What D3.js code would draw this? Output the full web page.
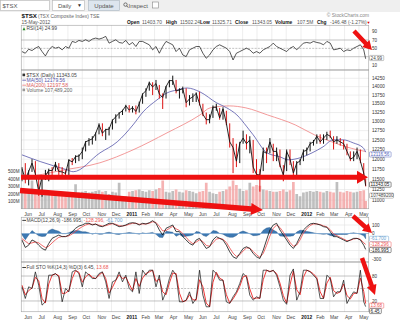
<!DOCTYPE html>
<html><head><meta charset="utf-8">
<script src="https://cdn.jsdelivr.net/npm/d3@7"></script>
<style>
html,body{margin:0;padding:0;background:#fff;}
svg{display:block;font-family:"Liberation Sans",Arial,sans-serif;}
</style></head><body>
<svg id="c" width="400" height="323"></svg>
<script>
// ---------------- DATA ----------------
// weekly closes/highs/lows (Fridays 2010-05-28 .. 2012-05-11, then 2012-05-15)
const closeVals = [11763,11500,11690,11900,11630,11200,11560,11580,11720,11710,11880,11690,11680,11640,11980,11930,12070,12080,12200,12450,12490,12530,12680,12910,12680,12780,12790,13030,13130,13230,13300,13440,
13320,13390,13280,13500,13780,13880,14120,13990,14090,13780,13680,14000,14180,14180,13870,13900,13940,13530,13640,13700,13800,13500,13200,13050,13050,13400,13400,13100,13350,12950,12450,12300,11950,12400,12550,12400,12500,11800,11620,11600,12200,12150,12450,12200,12200,11850,11600,12200,12000,11650,11900,11955,
12200,12230,12400,12450,12600,12450,12550,12650,12600,12450,12500,12450,12400,12200,12000,12050,12200,11950,11650,11343];
const highVals = [11800,11900,11720,12000,11950,11600,11600,11730,11760,11800,11930,11900,11800,11720,12000,12030,12100,12120,12300,12470,12550,12600,12700,12950,12950,12800,12850,13060,13200,13260,13330,13470,
13460,13430,13450,13560,13800,13950,14150,14130,14200,14050,13800,14020,14200,14330,14200,13950,14000,13950,13750,13800,13830,13850,13500,13250,13200,13450,13500,13380,13400,13300,12950,12550,12400,12450,12750,12650,12600,12500,12000,11750,12300,12300,12550,12400,12300,12250,11850,12250,12250,11950,11950,12000,
12250,12300,12450,12500,12650,12650,12650,12720,12750,12600,12600,12550,12500,12400,12200,12200,12300,12250,11900,11502];
const lowVals = [11450,11400,11350,11680,11560,11100,11080,11480,11450,11600,11700,11600,11600,11530,11600,11850,11900,11950,12000,12200,12350,12380,12480,12650,12600,12500,12620,12780,12950,13080,13180,13280,
13250,13250,13200,13250,13500,13700,13880,13750,13900,13650,13350,13650,13980,14050,13800,13650,13800,13400,13450,13550,13550,13450,13150,12920,12950,13100,13300,13050,13050,12900,12300,11650,11800,11900,12400,12250,12150,11650,11500,11200,11700,11900,12150,11950,11950,11800,11450,11700,11850,11500,11600,11850,
11950,12100,12200,12350,12400,12400,12400,12500,12550,12250,12400,12350,12250,12100,11950,11950,12000,11900,11600,11326];
const volumeM = [260,240,230,380,230,250,210,220,200,190,200,190,180,170,190,200,330,220,230,240,220,230,240,250,230,240,200,230,220,350,150,170,
230,240,250,260,240,230,250,240,260,280,380,230,220,240,260,230,220,250,240,230,210,230,240,350,230,210,200,230,240,260,300,380,320,270,240,250,350,300,320,310,260,250,240,230,230,240,260,230,250,360,200,170,
220,230,240,230,240,230,220,240,230,220,360,230,220,240,230,220,230,240,250,107.5];
const ma50 = [["2010-05-28",12111],["2010-07-05",11940],["2010-08-30",11732],["2010-09-12",11684],["2010-11-07",12162],["2010-12-13",12450],["2011-01-15",12906],["2011-02-05",13268],["2011-03-06",13609],["2011-03-27",13813],["2011-04-17",13901],["2011-05-08",13959],["2011-06-04",13843],["2011-07-09",13523],["2011-07-30",13381],["2011-08-20",13183],["2011-09-10",12853],["2011-09-23",12637],["2011-10-22",12162],["2011-11-18",12060],["2011-12-05",11984],["2011-12-30",12035],["2012-01-24",12162],["2012-02-16",12319],["2012-03-08",12503],["2012-03-29",12503],["2012-04-19",12423],["2012-05-10",12292],["2012-05-15",12180]];
const ma200 = [["2010-05-28",11550],["2010-07-10",11620],["2010-08-15",11708],["2010-11-07",11909],["2011-01-15",12240],["2011-03-27",12690],["2011-06-04",13183],["2011-06-25",13381],["2011-08-04",13438],["2011-09-08",13381],["2011-10-23",13183],["2011-12-20",12906],["2012-01-29",12637],["2012-03-11",12423],["2012-04-28",12240],["2012-05-15",12198]];
const rsiVals = [42.3,38.3,48.0,44.7,50.4,54.4,42.3,31.8,46.4,54.4,50.4,52.8,46.4,54.4,50.4,66.6,64.1,69.0,66.6,70.6,66.6,72.2,74.6,72.2,74.6,78.7,62.5,66.6,70.6,64.1,62.5,69.0,58.5,64.1,54.4,66.6,66.6,62.5,58.5,46.4,54.4,38.3,54.4,66.6,62.5,58.5,42.3,50.4,34.2,30.2,46.4,50.4,54.4,54.4,38.3,26.2,34.2,46.4,54.4,58.5,54.4,50.4,42.3,22.1,38.3,42.3,46.4,50.4,46.4,38.3,42.3,38.3,46.4,50.4,54.4,62.5,54.4,50.4,46.4,42.3,50.4,54.4,46.4,54.4,62.5,64.1,62.5,66.6,64.1,62.5,58.5,66.6,62.5,46.4,48.0,50.4,42.3,46.4,44.7,50.4,54.4,58.5,46.4,24.99];
const macdVals = [-76,-164,-137,-76,-96,-137,-176,-196,-117,-57,-37,-18,-37,-37,-18,22,61,88,100,120,120,100,112,88,80,100,120,120,100,80,88,100,120,127,120,100,120,112,127,151,120,41,-18,61,80,100,22,22,-37,-76,-117,-137,-76,-57,-117,-176,-156,-76,-37,-57,-76,-137,-215,-274,-294,-235,-176,-156,-176,-235,-274,-294,-196,-76,41,100,120,41,-18,-76,-137,-176,-117,-37,41,80,112,120,112,100,80,73,22,-37,-37,-57,-76,-96,-76,-57,-57,-76,-137,-187];
const signalVals = [-60,-90,-120,-110,-100,-110,-140,-165,-150,-110,-75,-45,-35,-35,-28,-5,25,55,80,100,112,108,108,98,88,92,105,115,108,92,88,95,108,120,120,108,112,112,120,138,130,85,30,35,60,85,55,35,0,-45,-90,-120,-100,-75,-95,-140,-150,-110,-65,-58,-68,-105,-170,-230,-270,-250,-205,-170,-172,-210,-250,-280,-235,-140,-30,60,100,70,15,-45,-105,-150,-135,-75,5,55,95,112,112,105,90,78,45,-5,-25,-45,-65,-85,-80,-65,-58,-68,-110,-128];
const histVals = [-16,-74,-17,34,4,-27,-36,-31,33,53,38,27,-2,-2,10,27,36,33,20,20,8,-8,4,-10,-8,8,15,5,-8,-12,0,5,12,7,0,-8,8,0,7,13,-10,-44,-48,26,20,15,-33,-13,-37,-31,-27,-17,24,18,-22,-36,-6,34,28,1,-8,-32,-45,-44,-24,15,29,14,-4,-25,-24,-14,39,64,71,40,20,-29,-33,-31,-32,-26,18,38,36,25,17,8,0,-5,-10,-5,-23,-32,-12,-12,-11,-11,4,8,1,-8,-27,-62];
const stoK = [54,26,54,50,90,58,10,18,82,82,86,78,18,50,42,90,94,86,54,90,82,74,74,86,90,66,26,66,70,90,66,82,50,42,90,38,94,82,94,94,54,82,22,42,74,94,82,18,18,22,42,14,26,94,34,6,6,94,86,70,70,18,14,30,42,62,86,78,34,22,30,26,94,94,90,94,82,54,22,12,82,97,22,42,94,94,90,82,73,26,26,82,74,30,42,42,70,14,30,42,38,94,18,6.45];
const stoD = [58,35,45,51,77,69,26,15,61,82,85,81,38,39,45,74,93,89,65,78,85,77,74,82,89,74,39,53,69,83,74,77,61,45,74,55,75,86,90,94,67,73,42,35,63,87,86,39,18,21,35,23,22,71,54,15,6,65,89,75,70,35,15,25,38,55,78,81,49,26,27,27,71,94,91,93,86,63,33,15,59,92,47,35,77,94,91,85,76,42,26,63,77,45,38,42,61,33,25,38,39,75,43,13.68];
const monthTicks = ["2010-06-01","2010-07-01","2010-08-01","2010-09-01","2010-10-01","2010-11-01","2010-12-01","2011-01-01","2011-02-01","2011-03-01","2011-04-01","2011-05-01","2011-06-01","2011-07-01","2011-08-01","2011-09-01","2011-10-01","2011-11-01","2011-12-01","2012-01-01","2012-02-01","2012-03-01","2012-04-01","2012-05-01"];
const monthLabels = ["Jun","Jul","Aug","Sep","Oct","Nov","Dec","2011","Feb","Mar","Apr","May","Jun","Jul","Aug","Sep","Oct","Nov","Dec","2012","Feb","Mar","Apr","May"];
const priceTicks = [11000,11250,11500,11750,12000,12250,12500,12750,13000,13250,13500,13750,14000,14250];
const volTicks = [100,200,300,400,500];
const rsiTicks = [90,70,50,30,10];
const macdTicks = [100,0,-100,-200,-300];
const stoTicks = [80,20];

// ---------------- SETUP ----------------
const parse = d3.timeParse("%Y-%m-%d");
const dates = d3.timeFriday.range(parse("2010-05-28"), parse("2012-05-12")).concat([parse("2012-05-15")]);
const L = 21, R = 369;
const x = d3.scaleTime().domain([parse("2010-05-26"), parse("2012-05-22")]).range([L, R]);
const P = {rsi:[25,70], main:[70,209], macd:[217,262], sto:[262,312]};
const yRsi = d3.scaleLinear().domain([0,100]).range([69.2,27.5]);
const yP = d3.scaleLog().domain([10795,14503]).range([209,70]);
const yV = d3.scaleLinear().domain([0,1000]).range([209,134]);
const yM = d3.scaleLinear().domain([-335,194]).range([262,217]);
const yS = d3.scaleLinear().domain([0,100]).range([309.3,267.7]);
const months = monthTicks.map(parse);

const svg = d3.select("#c");
const defs = svg.append("defs");
Object.entries(P).forEach(([k,[a,b]])=>{
  defs.append("clipPath").attr("id","clip-"+k).append("rect").attr("x",L).attr("y",a).attr("width",R-L).attr("height",b-a);
});
const txt = (g,x0,y0,s,opt={})=>g.append("text").attr("x",x0).attr("y",y0).text(s)
  .attr("font-size",opt.fs||4.8).attr("fill",opt.fill||"#222").attr("font-weight",opt.fw||"normal")
  .attr("text-anchor",opt.anchor||"start");
// one text element made of coloured pieces
function multi(g,x0,y0,parts,fs){
  const t = g.append("text").attr("x",x0).attr("y",y0).attr("font-size",fs);
  parts.forEach(([s,c])=>t.append("tspan").text(s).attr("fill",c));
  return t;
}

// ---------------- TOOLBAR ----------------
const tb = svg.append("g");
tb.append("rect").attr("x",0).attr("y",0).attr("width",400).attr("height",12).attr("fill","#efefef");
tb.append("rect").attr("x",0.5).attr("y",0.5).attr("width",49).attr("height",10).attr("fill","#fff").attr("stroke","#b5b5b5").attr("stroke-width",0.6);
txt(tb,2.5,7.6,"$TSX",{fs:6,fill:"#555"});
tb.append("rect").attr("x",52.5).attr("y",0.5).attr("width",32).attr("height",10).attr("fill","#fff").attr("stroke","#b5b5b5").attr("stroke-width",0.6);
txt(tb,58,7.6,"Daily",{fs:6,fill:"#555"});
txt(tb,77,7.4,"▼",{fs:5,fill:"#333"});
tb.append("rect").attr("x",88.5).attr("y",0.5).attr("width",31).attr("height",10).attr("fill","#dde5ee").attr("stroke","#a8b4c0").attr("stroke-width",0.6);
txt(tb,104,7.6,"Update",{fs:6,fill:"#555",anchor:"middle"});
tb.append("circle").attr("cx",125.5).attr("cy",4.6).attr("r",1.7).attr("fill","none").attr("stroke","#444").attr("stroke-width",0.7);
tb.append("line").attr("x1",126.7).attr("y1",5.8).attr("x2",128.2).attr("y2",7.6).attr("stroke","#444").attr("stroke-width",0.8);
txt(tb,128.5,7.6,"Inspect",{fs:6,fill:"#555"});
tb.append("rect").attr("x",152.5).attr("y",2).attr("width",6).attr("height",6).attr("fill","#fff").attr("stroke","#888").attr("stroke-width",0.6);

// ---------------- HEADER ----------------
const hd = svg.append("g");
txt(hd,21.5,18,"$TSX",{fs:6.2,fw:"bold",fill:"#111"});
txt(hd,38,18,"(TSX Composite Index) TSE",{fs:4.9,fill:"#666"});
txt(hd,21.5,23.8,"15-May-2012",{fs:4.9,fill:"#555"});
txt(hd,369,17,"© StockCharts.com",{fs:4.9,fill:"#888",anchor:"end"});
[["Open",127,true],["11403.70",142,false],["High",166,true],["11502.24",180,false],["Low",200,true],["11325.71",212,false],["Close",235,true],["11343.05",252,false],["Volume",275,true],["107.5M",297,false],["Chg",317,true],["-146.48 (-1.27%)",330,false]]
  .forEach(([s,xx,b])=>txt(hd,xx,23.8,s,{fs:4.9,fw:b?"bold":"normal",fill:b?"#111":"#555"}));
txt(hd,366.5,23.6,"▼",{fs:4,fill:"#d00"});

// ---------------- PANEL FRAMES & GRIDS ----------------
function frame(key){
  const [a,b] = P[key];
  const g = svg.append("g");
  g.append("rect").attr("x",L).attr("y",a).attr("width",R-L).attr("height",b-a).attr("fill","#fff");
  g.selectAll("line.v").data(months).join("line").attr("x1",d=>x(d)).attr("x2",d=>x(d)).attr("y1",a).attr("y2",b)
    .attr("stroke","#e2e2e2").attr("stroke-width",0.6);
  return g;
}
function border(key){
  const [a,b] = P[key];
  svg.append("rect").attr("x",L+0.25).attr("y",a+0.25).attr("width",R-L-0.5).attr("height",b-a-0.5)
    .attr("fill","none").attr("stroke","#a0a0a0").attr("stroke-width",0.6);
}
function hline(g,yy,col,dash,w){
  g.append("line").attr("x1",L).attr("x2",R).attr("y1",yy).attr("y2",yy).attr("stroke",col).attr("stroke-width",w||0.6).attr("stroke-dasharray",dash||null);
}
function valBox(yy,s,col){
  const w = s.length*2.45+2;
  svg.append("rect").attr("x",369.5).attr("y",yy-2.6).attr("width",w).attr("height",5.2).attr("fill","#fff").attr("stroke",col).attr("stroke-width",0.5).attr("rx",0.8);
  txt(svg,370.6,yy+1.6,s,{fs:4.6,fill:col==="#888"?"#444":col});
}
// axis labels, skipping the ones that sit under a value box (as in the reference)
function rLabels(ticks,scale,boxes){
  ticks.forEach(t=>{
    const yy = scale(t);
    if (boxes.some(b=>Math.abs(b-yy)<4.4)) return;
    txt(svg,372,yy+1.6,String(t),{fs:4.6,fill:"#333"});
  });
}

// RSI
const gR = frame("rsi");
hline(gR,yRsi(70),"#9a9a9a"); hline(gR,yRsi(30),"#9a9a9a"); hline(gR,yRsi(50),"#9a9a9a","2,1.2");
gR.append("path").datum(rsiVals).attr("clip-path","url(#clip-rsi)")
  .attr("d",d3.line().x((d,i)=>x(dates[i])).y(d=>yRsi(d))).attr("fill","none").attr("stroke","#111").attr("stroke-width",0.7);
gR.append("path").attr("d","M22.5,30.2 L24,27.2 L25.5,30.2 Z").attr("fill","#2a8a2a");
txt(gR,26.5,30.3,"RSI(14) 24.99",{fs:4.9,fill:"#444"});
border("rsi");
const rsiBoxes=[58];
rLabels(rsiTicks,yRsi,rsiBoxes);
valBox(58,"24.99","#888");

// MAIN
const gM = frame("main");
priceTicks.forEach(t=>hline(gM,yP(t),"#e2e2e2"));
const cm = gM.append("g").attr("clip-path","url(#clip-main)");
const bw = 2.7;
cm.selectAll("rect.vol").data(volumeM).join("rect")
  .attr("x",(d,i)=>x(dates[i])-bw/2).attr("width",bw)
  .attr("y",d=>yV(d)).attr("height",d=>209-yV(d))
  .attr("fill",(d,i)=>(i>0&&closeVals[i]<closeVals[i-1])?"#f19a9a":"#a9a9a9").attr("opacity",0.75);
cm.append("path").datum(ma200).attr("d",d3.line().curve(d3.curveMonotoneX).x(d=>x(parse(d[0]))).y(d=>yP(d[1])))
  .attr("fill","none").attr("stroke","#f08080").attr("stroke-width",0.8);
cm.append("path").datum(ma50).attr("d",d3.line().curve(d3.curveMonotoneX).x(d=>x(parse(d[0]))).y(d=>yP(d[1])))
  .attr("fill","none").attr("stroke","#5555aa").attr("stroke-width",0.8);
cm.selectAll("line.bar").data(closeVals).join("line")
  .attr("x1",(d,i)=>x(dates[i])).attr("x2",(d,i)=>x(dates[i]))
  .attr("y1",(d,i)=>yP(lowVals[i])).attr("y2",(d,i)=>yP(highVals[i]))
  .attr("stroke",(d,i)=>(i>0&&d<closeVals[i-1])?"#d11":"#111").attr("stroke-width",1.0);
cm.append("path").datum(closeVals).attr("d",d3.line().x((d,i)=>x(dates[i])).y(d=>yP(d)))
  .attr("fill","none").attr("stroke","#111").attr("stroke-width",0.9);
// legend
gM.append("rect").attr("x",22.5).attr("y",73.6).attr("width",2.6).attr("height",2.6).attr("fill","#333");
txt(gM,26.5,76.7,"$TSX (Daily) 11343.05",{fs:5,fill:"#444"});
gM.append("line").attr("x1",22.3).attr("x2",26).attr("y1",80.2).attr("y2",80.2).attr("stroke","#5555aa").attr("stroke-width",0.8);
txt(gM,26.5,81.7,"MA(50) 12179.56",{fs:5,fill:"#5555aa"});
gM.append("line").attr("x1",22.3).attr("x2",26).attr("y1",85.2).attr("y2",85.2).attr("stroke","#f08080").attr("stroke-width",0.8);
txt(gM,26.5,86.7,"MA(200) 12197.58",{fs:5,fill:"#e06060"});
gM.append("rect").attr("x",22.5).attr("y",88.6).attr("width",2.6).attr("height",2.6).attr("fill","#999");
txt(gM,26.5,91.7,"Volume 107,489,200",{fs:5,fill:"#666"});
border("main");
const mainBoxes=[154.4,184.6,195.6];
rLabels(priceTicks,yP,mainBoxes);
volTicks.forEach(t=>txt(svg,19.5,yV(t)+1.6,t+"M",{fs:4.6,fill:"#333",anchor:"end"}));
valBox(mainBoxes[0],"12116.56","#5566bb");
valBox(mainBoxes[1],"11343.05","#222");
valBox(mainBoxes[2],"107489200","#888");

// x labels
function xLabels(yy){
  months.forEach((m,i)=>{
    const yr = monthLabels[i].length===4;
    txt(svg,x(m)+0.3,yy,monthLabels[i],{fs:4.9,fw:yr?"bold":"normal",fill:yr?"#111":"#444"});
  });
}
xLabels(215.6);

// MACD
const gC = frame("macd");
macdTicks.forEach(t=>hline(gC,yM(t),"#e2e2e2"));
const cc = gC.append("g").attr("clip-path","url(#clip-macd)");
cc.append("path").datum(histVals).attr("d",d3.area().x((d,i)=>x(dates[i])).y0(yM(0)).y1(d=>yM(d)))
  .attr("fill","#3d79b3").attr("stroke","#1d4f82").attr("stroke-width",0.4);
hline(cc,yM(0),"#8fb6dc",null,0.8);
cc.append("path").datum(signalVals).attr("d",d3.line().x((d,i)=>x(dates[i])).y(d=>yM(d)))
  .attr("fill","none").attr("stroke","#ee4444").attr("stroke-width",0.8);
cc.append("path").datum(macdVals).attr("d",d3.line().x((d,i)=>x(dates[i])).y(d=>yM(d)))
  .attr("fill","none").attr("stroke","#111").attr("stroke-width",0.8);
gC.append("line").attr("x1",22.3).attr("x2",26).attr("y1",220.4).attr("y2",220.4).attr("stroke","#111").attr("stroke-width",0.8);
multi(gC,26.5,222,[["MACD(12,26,9) -186.995, ","#444"],["-128.296, ","#ee5555"],["-61.700","#6aa0d0"]],4.9);
border("macd");
const macdBoxes=[238.8,244.4,250];
rLabels(macdTicks,yM,macdBoxes);
valBox(macdBoxes[0],"-61.700","#6aa0d0");
valBox(macdBoxes[1],"-128.296","#ee5555");
valBox(macdBoxes[2],"-186.995","#222");

// STO
const gS = frame("sto");
hline(gS,yS(80),"#9a9a9a"); hline(gS,yS(20),"#9a9a9a"); hline(gS,yS(50),"#9a9a9a","2,1.2");
const cs = gS.append("g").attr("clip-path","url(#clip-sto)");
cs.append("path").datum(stoD).attr("d",d3.line().x((d,i)=>x(dates[i])).y(d=>yS(d)))
  .attr("fill","none").attr("stroke","#e22").attr("stroke-width",0.9);
cs.append("path").datum(stoK).attr("d",d3.line().x((d,i)=>x(dates[i])).y(d=>yS(d)))
  .attr("fill","none").attr("stroke","#111").attr("stroke-width",0.7);
gS.append("line").attr("x1",22.3).attr("x2",26).attr("y1",267.5).attr("y2",267.5).attr("stroke","#111").attr("stroke-width",0.8);
multi(gS,26.5,269,[["Full STO %K(14,3) %D(3) 6.45, ","#444"],["13.68","#ee5555"]],4.9);
border("sto");
const stoBoxes=[305.6,311];
rLabels(stoTicks,yS,[]);
valBox(stoBoxes[0],"13.68","#ee5555");
valBox(stoBoxes[1],"6.45","#222");
xLabels(318.6);

// ---------------- ANNOTATION ARROWS ----------------
function arrow(x1,y1,x2,y2,w,hl,hw){
  const dx=x2-x1, dy=y2-y1, len=Math.hypot(dx,dy), ux=dx/len, uy=dy/len, nx=-uy, ny=ux;
  const bx=x2-ux*hl, by=y2-uy*hl;
  const pts=[[x1+nx*w/2,y1+ny*w/2],[bx+nx*w/2,by+ny*w/2],[bx+nx*hw/2,by+ny*hw/2],[x2,y2],[bx-nx*hw/2,by-ny*hw/2],[bx-nx*w/2,by-ny*w/2],[x1-nx*w/2,y1-ny*w/2]];
  svg.append("path").attr("d","M"+pts.map(p=>p.join(",")).join("L")+"Z").attr("fill","#ee1111");
}
arrow(21,177.3,368,177.3,5,11,13);
arrow(20,190.5,263,210,5.5,12,12);
arrow(354,31,372,50,4.5,9,10);
arrow(353,216,372,233,4.5,9,10);
arrow(362,258,375,295,4.5,10,10);
</script></body></html>
